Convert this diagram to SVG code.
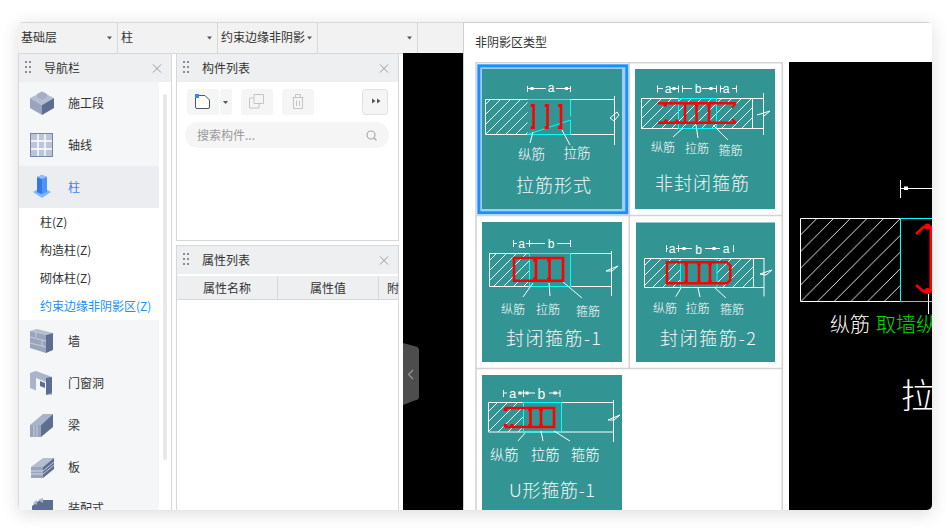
<svg xmlns="http://www.w3.org/2000/svg" width="950" height="528" viewBox="0 0 950 528">
<style>
text{font-family:"Noto Sans CJK SC","Liberation Sans",sans-serif;fill:#333}
.t13{font-size:12px}
.w{fill:none;stroke:#fff;stroke-width:1}
.c{fill:none;stroke:#0ff;stroke-width:1}
.r{fill:none;stroke:#f00;stroke-width:2.600}
.lab{fill:#fff;font-size:12px;font-weight:300}
.lab2{fill:#fff;font-size:13.500px;font-weight:300}
.lab3{fill:#fff;font-size:14.300px;font-weight:300}
.cap{fill:#f4f8f6;font-size:18px;font-weight:300}
.dim{fill:#fff;font-size:12px;font-family:"Liberation Sans",sans-serif;text-anchor:middle}
.tile{fill:#339494}
.sep{stroke:#d8d8d8;stroke-width:1;fill:none}
.grid{stroke:#d4d4d4;stroke-width:1.600;fill:none}
.x{stroke:#9a9a9a;stroke-width:1;fill:none}
.nav{font-size:12px;fill:#333}
</style>
<defs>
<filter id="sh" x="-6%" y="-10%" width="112%" height="120%"><feGaussianBlur stdDeviation="9"/></filter>
<clipPath id="win"><rect x="18" y="22" width="914" height="488" rx="5"/></clipPath>
<pattern id="hatch" width="16.700" height="16.700" patternUnits="userSpaceOnUse"><path d="M0 16.700L16.700 0" stroke="#fff" stroke-width=".9"/></pattern>
<pattern id="hatchS" width="10" height="10" patternUnits="userSpaceOnUse"><path d="M-1 11L11 -1" stroke="#fff" stroke-width="1"/></pattern>
<g id="dots" fill="#8c8c8c"><rect x="0" y="0" width="2" height="2"/><rect x="4" y="0" width="2" height="2"/><rect x="0" y="5" width="2" height="2"/><rect x="4" y="5" width="2" height="2"/><rect x="0" y="10" width="2" height="2"/><rect x="4" y="10" width="2" height="2"/></g>
<path id="close" d="M-4 -4L4 4M4 -4L-4 4"/>
<path id="caret" d="M-2.500 0H2.500L0 3z" fill="#555"/>
<path id="blob" d="M-1.500 -1.500H1.500L2 1.500H-2z" fill="#f00"/>
<rect id="sq" x="-1.500" y="-1.500" width="3" height="3" fill="#fff"/>
</defs>
<rect width="950" height="528" fill="#fff"/>
<rect x="18" y="25" width="914" height="489" fill="#000" opacity=".13" filter="url(#sh)"/>
<g clip-path="url(#win)">
<rect x="18" y="22" width="914" height="488" fill="#fff"/>
<g id="toolbar">
<rect x="18" y="22" width="446" height="31" fill="#f2f2f2"/>
<path class="sep" d="M18 22.500H464M117.500 22V53M217.500 22V53M317.500 22V53M417.500 22V53M18 53.500H403"/>
<text class="t13" x="21" y="42">基础层</text><use href="#caret" x="109.500" y="36.500"/>
<text class="t13" x="121" y="42">柱</text><use href="#caret" x="209.500" y="36.500"/>
<text class="t13" x="221" y="42">约束边缘非阴影</text><use href="#caret" x="309.500" y="36.500"/>
<use href="#caret" x="409.500" y="36.500"/>
</g>
<g id="navigator">
<rect x="19" y="54" width="152" height="28" fill="#eeeff1"/>
<rect x="19" y="82" width="140" height="84" fill="#f5f6f8"/>
<rect x="19" y="166" width="140" height="42" fill="#ecedf0"/>
<rect x="19" y="320" width="140" height="190" fill="#f5f6f8"/>
<path class="sep" d="M18.500 54V510M171.500 54V510"/>
<rect x="163" y="94" width="4" height="366" rx="2" fill="#e8e8e8"/>
<use href="#dots" x="25" y="61"/>
<text class="t13" x="44" y="73">导航栏</text>
<use href="#close" class="x" x="157" y="68.500"/>
<g id="nav-icon-1"><path d="M30 98L42 92L54 98L42 105z" fill="#b5bdd0"/><path d="M30 98V108L42 115V105z" fill="#9aa5bd"/><path d="M54 98V108L42 115V105z" fill="#5e6e92"/><path d="M37 94L42 91.500L47 94V97L42 100L37 97z" fill="#a5aec4"/></g>
<text class="t13" x="68" y="108">施工段</text>
<g id="nav-icon-2"><rect x="30.500" y="133.500" width="22" height="23" fill="#bcc5d8" stroke="#7686a8"/><path d="M38 134V156M45 134V156M31 141H52M31 149H52" stroke="#fff" stroke-width="1.400"/></g>
<text class="t13" x="68" y="150">轴线</text>
<g id="nav-icon-3"><path d="M33 192L42 187L51 192L42 198z" fill="#7cb6ff"/><path d="M37 177L42 175L47 177V192L42 194L37 192z" fill="#4d94ff"/><path d="M37 177L42 179V194L37 192z" fill="#3478e0"/><path d="M37 177L42 175L47 177L42 179z" fill="#8cc0ff"/></g>
<text class="t13" x="68" y="192" style="fill:#3d83f5">柱</text>
<text class="nav" x="40" y="227">柱(Z)</text>
<text class="nav" x="40" y="255">构造柱(Z)</text>
<text class="nav" x="40" y="283">砌体柱(Z)</text>
<text class="nav" x="40" y="311" style="fill:#1890ff">约束边缘非阴影区(Z)</text>
<g id="nav-icon-4"><path d="M30 331L46 335L53 333L37 329z" fill="#b5bdd0"/><path d="M30 331L46 335V353L30 348z" fill="#9aa5bd"/><path d="M46 335L53 333V350L46 353z" fill="#5e6e92"/><path d="M30 337L46 341M30 343L46 347M36 332V337M42 340V346" stroke="#cfd5e2" stroke-width=".8"/></g>
<text class="t13" x="68" y="346">墙</text>
<g id="nav-icon-5"><path d="M30 373L36 371L52 377V395L46 394.500L30 388z" fill="#aab3c8"/><path d="M46 378L52 377V393L46 395z" fill="#5e6e92"/><path d="M36 378L46 382V395L36 391z" fill="#f5f6f8"/><path d="M40 381L45 383V388L40 386z" fill="#5e6e92"/></g>
<text class="t13" x="68" y="388">门窗洞</text>
<g id="nav-icon-6"><path d="M30 425L43 414H53L41 425z" fill="#aab3c8"/><path d="M30 425H41V437H30z" fill="#9aa5bd"/><path d="M41 425L53 414V427L41 437z" fill="#5e6e92"/><path d="M34 425V437M37 425V437" stroke="#cfd5e2" stroke-width=".8"/></g>
<text class="t13" x="68" y="430">梁</text>
<g id="nav-icon-7"><path d="M31 467L43 458H54L43 467z" fill="#b5bdd0"/><path d="M31 467H43V478H31z" fill="#9aa5bd"/><path d="M43 467L54 458V469L43 478z" fill="#5e6e92"/><path d="M31 471H43M31 474H43M43 471L54 462M43 474L54 465" stroke="#dfe3ec" stroke-width=".8"/></g>
<text class="t13" x="68" y="472">板</text>
<g id="nav-icon-8"><path d="M32 506L40 500H53V510H32z" fill="#5e6e92"/><path d="M33 503L37 500V505zM38 500L43 498V503z" fill="#aab3c8"/></g>
<text class="t13" x="68" y="513">装配式</text>
</g>
<g id="component-list">
<rect x="176.500" y="53.500" width="222" height="187" fill="#fff" stroke="#d8d8d8"/>
<rect x="177" y="54" width="221" height="28" fill="#eeeff1"/>
<use href="#dots" x="183" y="61"/>
<text class="t13" x="202" y="73">构件列表</text>
<use href="#close" class="x" x="384" y="68.500"/>
<rect x="187" y="89" width="32" height="26" rx="3" fill="#f5f5f5"/>
<rect x="220" y="89" width="12" height="26" rx="3" fill="#f5f5f5"/>
<use href="#caret" x="225.500" y="101"/>
<path d="M195.500 95.500H205L209.500 100V107A1.500 1.500 0 0 1 208 108.500H197A1.500 1.500 0 0 1 195.500 107z" fill="#fff" stroke="#4a5568"/>
<rect x="195" y="94" width="4" height="4" fill="#3d83f5"/>
<rect x="241" y="89" width="32" height="26" rx="3" fill="#f5f5f5"/>
<path d="M254 94.500H263.500V103.500H254zM254 98H249.500V108H259V103.500" fill="none" stroke="#c5c5c5"/>
<rect x="282" y="89" width="32" height="26" rx="3" fill="#f5f5f5"/>
<path d="M292.500 97.500H303.500M295.500 97V94.500H300.500V97M293.500 97.500V108.500H302.500V97.500M296.500 100.500V106M299.500 100.500V106" fill="none" stroke="#c5c5c5"/>
<rect x="362.500" y="89.500" width="25" height="25" rx="3" fill="#f5f5f5" stroke="#e0e0e0"/>
<path d="M372 98.500L375.500 101L372 103.500zM377 98.500L380.500 101L377 103.500z" fill="#555"/>
<rect x="185" y="122" width="204" height="26" rx="13" fill="#f5f5f5"/>
<text x="197" y="140" style="font-size:12px;fill:#999">搜索构件...</text>
<circle cx="371" cy="135" r="4" fill="none" stroke="#aaa" stroke-width="1.200"/><path d="M374 138L376.500 140.500" stroke="#aaa" stroke-width="1.200"/>
</g>
<g id="property-list">
<rect x="176.500" y="245.500" width="222" height="270" fill="#fff" stroke="#d8d8d8"/>
<rect x="177" y="246" width="221" height="28" fill="#eeeff1"/>
<rect x="177" y="276" width="221" height="23" fill="#eeeff1"/>
<path class="sep" d="M177 299.500H398M277.500 276V299M378.500 276V299"/>
<use href="#dots" x="183" y="253"/>
<text class="t13" x="202" y="265">属性列表</text>
<use href="#close" class="x" x="384" y="260.500"/>
<text class="t13" x="203" y="293">属性名称</text>
<text class="t13" x="310" y="293">属性值</text>
<text class="t13" x="387" y="293">附</text>
</g>
<g id="canvas">
<rect x="403" y="53" width="61" height="457" fill="#000"/>
<path d="M403 343L416 346.500Q419 347.500 419 350V397Q419 399.500 416 400L403 405z" fill="#4d4d4d"/>
<path d="M413 370L408.500 374.500L413 379" fill="none" stroke="#999" stroke-width="1.200"/>
</g>
<g id="dialog">
<rect x="464" y="22" width="468" height="488" fill="#fff"/>
<path d="M463.500 22V510M463.500 22.500H932" fill="none" stroke="#cfcfcf"/>
<text class="t13" x="475" y="47">非阴影区类型</text>
<path class="grid" d="M476 62.800H782.500M476 215.500H782.500M476 368.500H782.500M476 62V510M782.300 62V510M629.300 62V369"/>
</g>
<g id="tile-1">
<rect x="478.800" y="65.800" width="148" height="147" fill="#a3cbf7" stroke="#1890ff" stroke-width="3"/>
<rect x="482" y="69" width="140" height="140" class="tile"/>
<path class="w" d="M527.500 86V92M570.500 86V92M528 88.500H546M556 88.500H570"/>
<use href="#sq" x="532" y="88.500"/><use href="#sq" x="566.500" y="88.500"/>
<text class="dim" x="551" y="92">a</text>
<rect x="485.500" y="99.500" width="42" height="35" fill="url(#hatchS)"/>
<path class="w" d="M485.500 99.500H614M485.500 134.500H614M485.500 99.500V134.500M614.500 96V145M610 118L617 112L619 115L614 121L610 118"/>
<path d="M527.500 99.500H570.500V116.500M570.500 120V134.500H527.500z" class="c"/>
<path class="r" d="M533.500 104V129M547.500 104V129M561 104V129"/>
<use href="#blob" x="532.500" y="105.500"/><use href="#blob" x="532.500" y="127.500"/><use href="#blob" x="546.500" y="105.500"/><use href="#blob" x="546.500" y="127.500"/><use href="#blob" x="560" y="105.500"/><use href="#blob" x="560" y="127.500"/>
<path class="w" d="M533 132L530 143M562 130L570 145"/>
<text class="lab2" x="518" y="159">纵筋</text><text class="lab2" x="563.500" y="158">拉筋</text>
<text class="cap" x="516" y="192" textLength="75">拉筋形式</text>
</g>
<g id="tile-2">
<rect x="635" y="69" width="140" height="140" class="tile"/>
<path class="w" d="M657.500 85.500V92.500M678.500 85.500V92.500M682.500 85.500V92.500M716.500 85.500V92.500M720.500 85.500V92.500M736.500 85.500V92.500M658 88.500H663M671 88.500H678M683 88.500H692M702 88.500H716M721 88.500H724M732 88.500H736"/>
<use href="#sq" x="674" y="88.500"/><use href="#sq" x="711" y="88.500"/>
<text class="dim" x="668" y="92.500">a</text><text class="dim" x="698" y="93">b</text><text class="dim" x="726" y="92.500">a</text>
<rect x="641.500" y="98.500" width="111" height="30" fill="url(#hatchS)"/>
<rect x="641.500" y="98.500" width="111" height="30" class="w"/>
<path class="w" d="M752 98.500H763M752 128.500H763M763.500 93V135M757 115L770 111L764 116"/>
<rect x="678.500" y="98.500" width="38" height="30" class="c"/>
<path class="r" d="M658 103.300H736M658 122.800H736M685 103V123M696.500 103V123M709 103V123"/>
<path d="M736 103L732 108M736 123L732 119" stroke="#f00" stroke-width="2" fill="none"/>
<use href="#blob" x="665" y="105"/><use href="#blob" x="696.500" y="105"/><use href="#blob" x="709" y="105"/><use href="#blob" x="666" y="121"/><use href="#blob" x="677" y="121"/>
<path class="w" d="M683 128L673 137M696 125L698 138M713 125L728 140"/>
<text class="lab" x="651" y="152">纵筋</text><text class="lab" x="685" y="153">拉筋</text><text class="lab" x="718.500" y="155">箍筋</text>
<text class="cap" x="655" y="190" textLength="94">非封闭箍筋</text>
</g>
<g id="tile-3">
<rect x="482" y="222" width="140" height="140" class="tile"/>
<path class="w" d="M513.500 240V247M529.500 240V247M570.500 240V247M514 243.500H517M526 243.500H529M530 243.500H545M557 243.500H570"/>
<text class="dim" x="521.500" y="247.500">a</text><text class="dim" x="551" y="248">b</text>
<rect x="489.500" y="253.500" width="40" height="33" fill="url(#hatchS)"/>
<path class="w" d="M489.500 253.500H611M489.500 286.500H611M489.500 253.500V286.500M611.500 251V296M606 271L618 266L612 271L606 271"/>
<rect x="529.500" y="253.500" width="41" height="33" class="c"/>
<path class="r" d="M514 258H563V280.700H514zM536 258V280.700M549.500 258V280.700"/>
<use href="#blob" x="535" y="260"/><use href="#blob" x="549" y="260"/><use href="#blob" x="535" y="278.500"/><use href="#blob" x="549" y="278.500"/>
<path class="w" d="M533 283L523 297M549 283L550 296M563 282L582 298"/>
<text class="lab" x="501" y="314">纵筋</text><text class="lab" x="536" y="314">拉筋</text><text class="lab" x="576" y="316">箍筋</text>
<text class="cap" x="506" y="345" textLength="95">封闭箍筋-1</text>
</g>
<g id="tile-4">
<rect x="636" y="222.500" width="139" height="139.500" class="tile"/>
<path class="w" d="M666.500 245V252M678.500 245V252M667 248.500H668M676 248.500H692M705 248.500H720M733.500 245V252"/>
<use href="#sq" x="684" y="248.500"/><use href="#sq" x="714" y="248.500"/>
<text class="dim" x="672" y="252.500">a</text><text class="dim" x="698.500" y="253.500">b</text><text class="dim" x="726" y="252.500">a</text>
<rect x="644.500" y="258.500" width="36" height="29" fill="url(#hatchS)"/>
<rect x="717" y="258.500" width="36.500" height="29" fill="url(#hatchS)"/>
<rect x="680.500" y="258.500" width="36.500" height="29" class="c"/>
<path class="w" d="M644.500 258.500H764M644.500 287.500H764M644.500 258.500V287.500M753.500 258.500V287.500M764 258V296.500M760 274L772 270L766 275L760 274"/>
<path class="r" d="M667 262.300H727L730.300 265.500V280L727 283.300H667zM686.500 262V283M699 262V283M710 262V283"/>
<use href="#blob" x="686" y="264"/><use href="#blob" x="699" y="264"/><use href="#blob" x="710" y="264"/><use href="#blob" x="686" y="281.500"/><use href="#blob" x="699" y="281.500"/><use href="#blob" x="710" y="281.500"/>
<path class="w" d="M681 288L675.700 296.700M698 288L700 297M714 287L726 298"/>
<text class="lab" x="653" y="313">纵筋</text><text class="lab" x="685.500" y="313">拉筋</text><text class="lab" x="720" y="314">箍筋</text>
<text class="cap" x="660" y="345" textLength="96">封闭箍筋-2</text>
</g>
<g id="tile-5">
<rect x="482" y="375" width="140" height="135" class="tile"/>
<path class="w" d="M503.500 390V397M523.500 390V397M560 390V397M504 393H507M518 393H523M524 393H535M549 393H560"/>
<use href="#sq" x="520" y="393"/><use href="#sq" x="527" y="393"/><use href="#sq" x="555" y="393"/>
<text class="dim" x="512.500" y="398" style="font-size:13px">a</text><text class="dim" x="541.500" y="399" style="font-size:14px">b</text>
<rect x="488.500" y="402.500" width="35" height="29.500" fill="url(#hatchS)"/>
<path class="w" d="M488.500 402.500H614M488.500 432H614M488.500 402.500V432M613.500 400V442M608 420L620 415L614 420L608 420"/>
<rect x="523.500" y="402.500" width="38" height="29.500" class="c"/>
<path class="r" d="M505 408H554V427H505M530.500 408V427M541 408V427"/>
<use href="#blob" x="505.500" y="409.500"/><use href="#blob" x="505.500" y="425.500"/><use href="#blob" x="512" y="425.500"/><use href="#blob" x="530" y="425.500"/><use href="#blob" x="541" y="425.500"/><use href="#blob" x="530" y="409.500"/><use href="#blob" x="541" y="409.500"/>
<path class="w" d="M525 433L518 441M541 431L543 441M554 431L570 441"/>
<text class="lab3" x="490" y="460">纵筋</text><text class="lab3" x="531" y="460">拉筋</text><text class="lab3" x="571" y="460">箍筋</text>
<text class="cap" x="509" y="497" textLength="86">U形箍筋-1</text>
</g>
<g id="preview">
<rect x="789" y="62" width="143" height="448" fill="#000"/>
<path class="w" d="M900.500 180V198M901 188.500H932"/>
<rect x="904" y="186.500" width="4" height="3.500" fill="#fff"/>
<rect x="800.500" y="218.500" width="100" height="83" fill="url(#hatch)"/>
<path class="w" d="M800.500 218.500H900.500M800.500 301.500H900.500M800.500 218.500V301.500"/>
<path d="M900.500 218.500H932M900.500 301.500H932M900.500 218.500V301.500" class="c"/>
<path d="M916 234L923.500 227H930.700V291.500H923.500L916 285" fill="none" stroke="#f00" stroke-width="2.600"/>
<circle cx="927.500" cy="226.500" r="3" fill="#f00"/><circle cx="927.500" cy="291" r="3" fill="#f00"/>
<path d="M928.500 294V314" stroke="#fff"/>
<text x="830" y="332" style="font-size:20px;fill:#fff;font-weight:300">纵筋</text>
<text x="876" y="332" style="font-size:20px;fill:#00e000;font-weight:300">取墙纵</text>
<text x="901" y="408" style="font-size:34px;fill:#fff;font-weight:300">拉</text>
</g>
</g>
</svg>
